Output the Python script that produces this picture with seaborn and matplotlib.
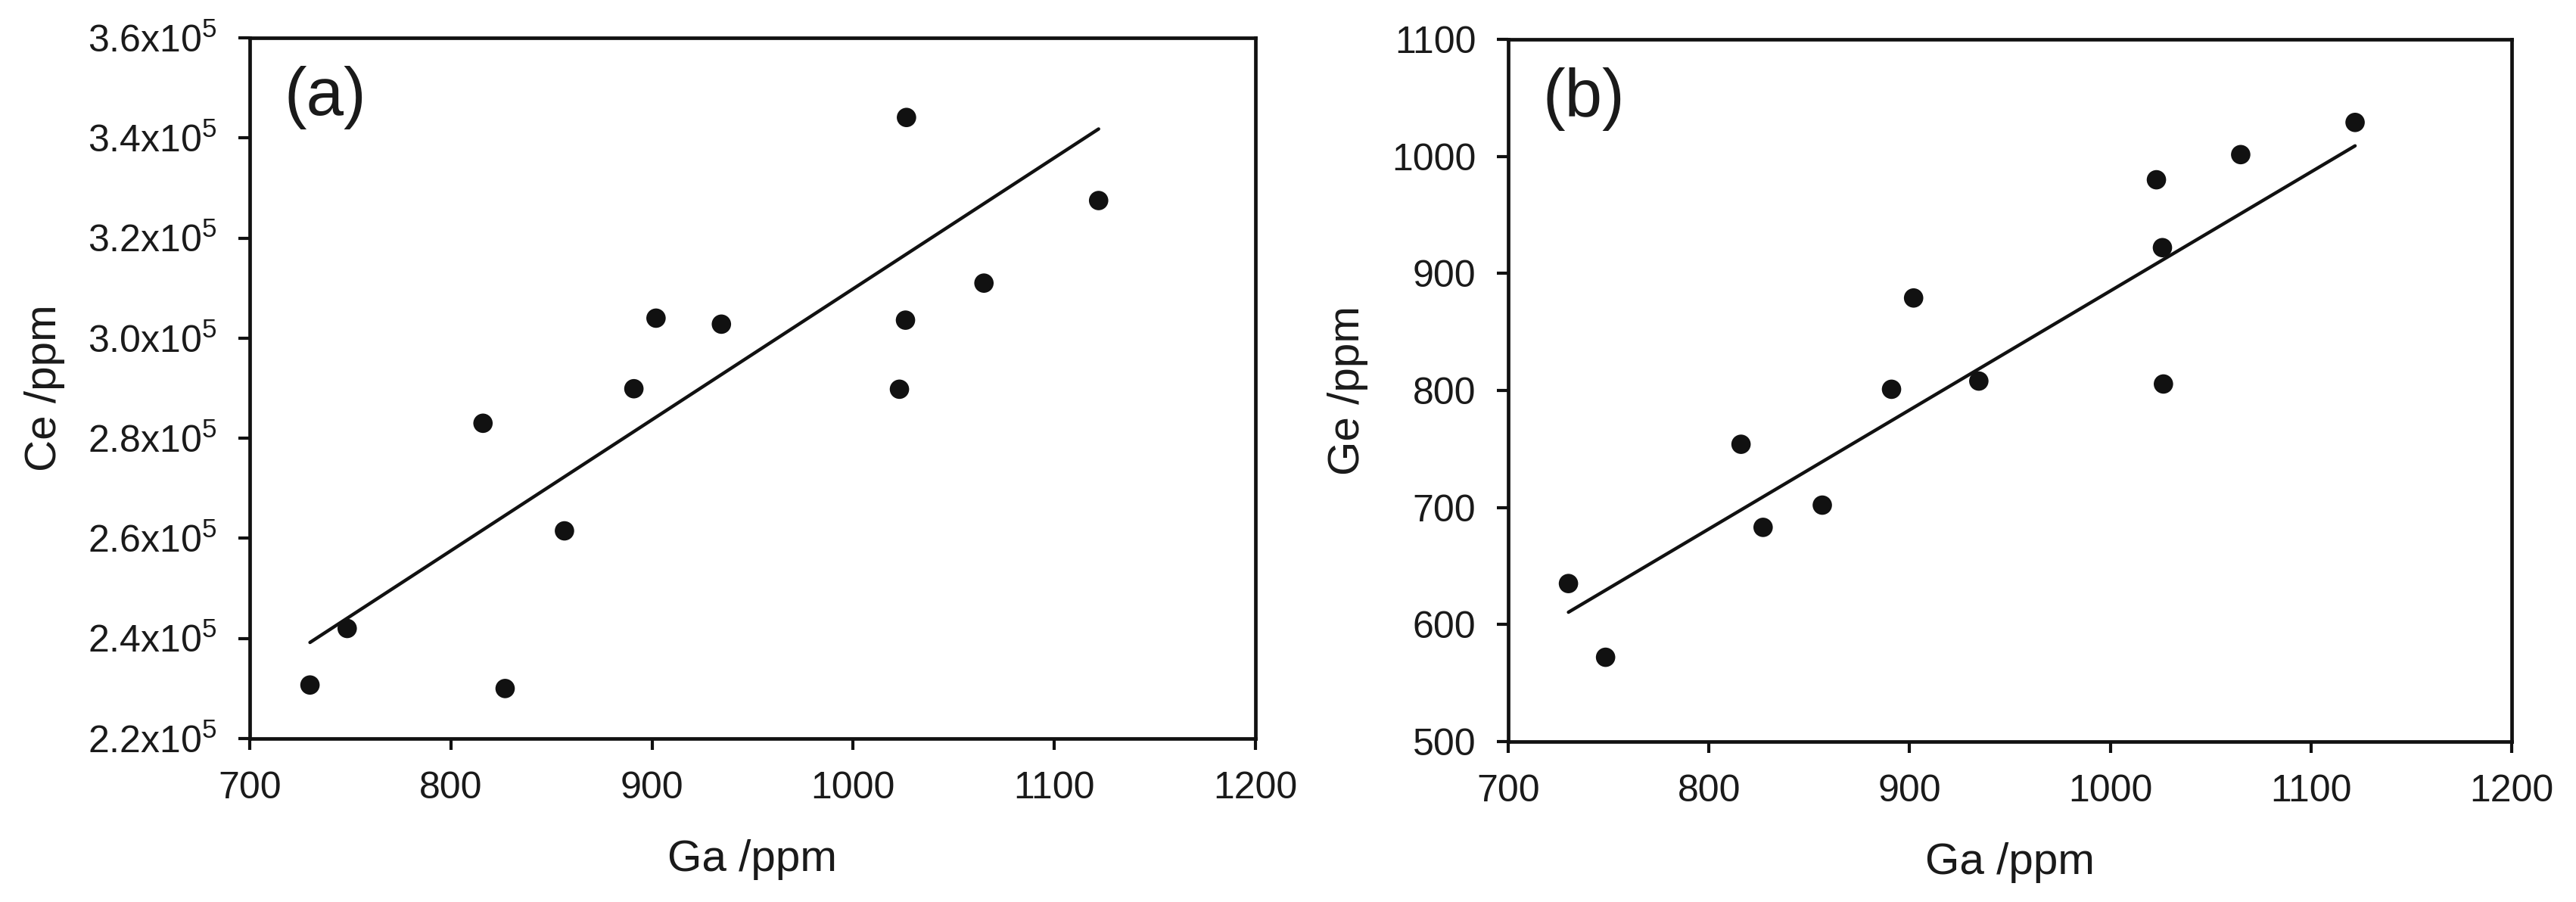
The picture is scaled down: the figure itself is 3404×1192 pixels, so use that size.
import matplotlib
matplotlib.use("Agg")
import matplotlib.pyplot as plt
from matplotlib.ticker import FuncFormatter, MultipleLocator
import seaborn as sns
import pandas as pd

# Ga content of the samples (shared x for both panels)
ga_ppm = [730, 748.5, 816, 827, 856.5, 891, 902, 934.5, 1023, 1026, 1026.5, 1065, 1122]
# Ce content, panel (a)
ce_ppm = [2.307e5, 2.42e5, 2.83e5, 2.30e5, 2.615e5, 2.899e5, 3.04e5, 3.028e5,
          2.898e5, 3.036e5, 3.441e5, 3.11e5, 3.275e5]
# Ge content, panel (b)
ge_ppm = [635, 572, 754, 683, 702, 801, 879, 808, 980, 922, 805.5, 1001.5, 1029]

# linear trend lines as drawn in the figure (values at min / max Ga)
trend_ga = [730, 1122]
trend_ce = [2.392e5, 3.418e5]
trend_ge = [610.5, 1009]

sns.set_style("white")
plt.rcParams["font.family"] = ["Liberation Sans", "DejaVu Sans"]
plt.rcParams["mathtext.fontset"] = "custom"
plt.rcParams["mathtext.rm"] = "Liberation Sans"
plt.rcParams["mathtext.default"] = "rm"

df = pd.DataFrame({"ga": ga_ppm, "ce": ce_ppm, "ge": ge_ppm})
trend = pd.DataFrame({"ga": trend_ga, "ce": trend_ce, "ge": trend_ge})

fig = plt.figure(figsize=(17.02, 5.96), dpi=200)
ax_a = fig.add_axes([0.0969, 0.1812, 0.3905, 0.7768])
ax_b = fig.add_axes([0.5855, 0.1779, 0.3895, 0.7785])

ink = "#111111"


def style_axes(ax, ylabel):
    for sp in ax.spines.values():
        sp.set_visible(True)
        sp.set_color(ink)
        sp.set_linewidth(1.7)
    ax.tick_params(axis="both", which="major", direction="out", length=5.4, width=1.5,
                   color=ink, labelsize=18, pad=10, labelcolor="#1a1a1a",
                   bottom=True, left=True, top=False, right=False)
    ax.set_xlim(700, 1200)
    ax.xaxis.set_major_locator(MultipleLocator(100))
    ax.set_xlabel("Ga /ppm", fontsize=21, labelpad=16, color="#1a1a1a")
    ax.set_ylabel(ylabel, fontsize=21, labelpad=11, color="#1a1a1a")


for ax, col, ylabel, tag in [(ax_a, "ce", "Ce /ppm", "(a)"), (ax_b, "ge", "Ge /ppm", "(b)")]:
    sns.lineplot(data=trend, x="ga", y=col, ax=ax, color=ink, linewidth=1.6)
    sns.scatterplot(data=df, x="ga", y=col, ax=ax, color=ink, s=85, edgecolor="none", zorder=3)
    style_axes(ax, ylabel)
    ax.text(0.034, 0.915, tag, transform=ax.transAxes, fontsize=32, va="center",
            ha="left", color="#1a1a1a")

ax_a.set_ylim(2.2e5, 3.6e5)
ax_a.yaxis.set_major_locator(MultipleLocator(0.2e5))
ax_a.yaxis.set_major_formatter(FuncFormatter(lambda v, p: f"{v / 1e5:.1f}x10$^5$"))

ax_b.set_ylim(500, 1100)
ax_b.yaxis.set_major_locator(MultipleLocator(100))

fig.savefig("out.png", dpi=200, facecolor="white")
